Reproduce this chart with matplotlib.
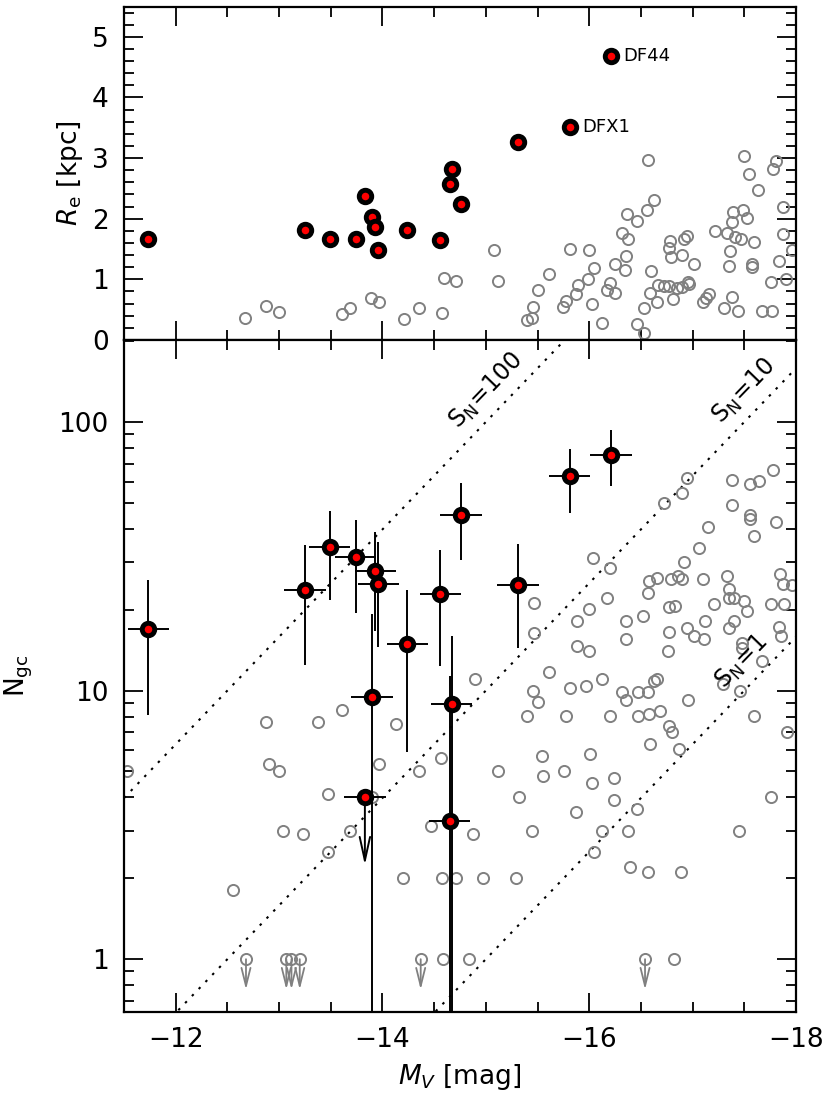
import numpy as np
import matplotlib.pyplot as plt
from matplotlib.ticker import MultipleLocator, FixedLocator, LogLocator, FuncFormatter, NullFormatter

plt.rcParams['font.family'] = ['DejaVu Sans']
plt.rcParams['mathtext.fontset'] = 'dejavusans'

# --- comparison sample, R_e panel ---
cmp_re_mv = [-12.67, -12.87, -13.00, -13.61, -13.69, -13.89, -13.97, -14.21, -14.35, -14.58,
             -14.60, -14.71, -15.08, -15.12, -15.40, -15.45, -15.46, -15.50, -15.61, -15.75,
             -15.78, -15.81, -15.87, -15.89, -15.99, -16.00, -16.03, -16.05, -16.12, -16.17,
             -16.20, -16.25, -16.25, -16.32, -16.35, -16.36, -16.37, -16.38, -16.46, -16.46,
             -16.53, -16.53, -16.56, -16.57, -16.59, -16.60, -16.63, -16.66, -16.67, -16.72,
             -16.77, -16.78, -16.77, -16.79, -16.81, -16.85, -16.90, -16.90, -16.92, -16.95,
             -16.96, -16.97, -17.01, -17.10, -17.13, -17.16, -17.22, -17.30, -17.33, -17.36,
             -17.35, -17.38, -17.38, -17.39, -17.41, -17.44, -17.47, -17.49, -17.50, -17.53,
             -17.55, -17.57, -17.57, -17.59, -17.63, -17.67, -17.76, -17.77, -17.78, -17.81,
             -17.84, -17.87, -17.87, -17.90, -17.96]
cmp_re = [0.36, 0.56, 0.46, 0.42, 0.53, 0.70, 0.63, 0.35, 0.52, 0.44,
          1.03, 0.98, 1.48, 0.98, 0.33, 0.36, 0.55, 0.83, 1.09, 0.55,
          0.64, 1.50, 0.76, 0.90, 1.00, 1.48, 0.59, 1.18, 0.28, 0.82,
          0.94, 0.78, 1.25, 1.76, 1.16, 1.39, 2.07, 1.66, 0.27, 1.96,
          0.52, 0.11, 2.14, 2.96, 0.78, 1.13, 2.30, 0.63, 0.90, 0.89,
          0.89, 1.64, 1.51, 1.37, 0.67, 0.85, 0.88, 1.40, 1.66, 1.72,
          0.96, 0.93, 1.25, 0.63, 0.69, 0.76, 1.80, 0.52, 1.77, 1.47,
          1.22, 0.71, 1.95, 2.11, 1.70, 0.47, 1.66, 2.15, 3.04, 2.01,
          2.73, 1.26, 1.21, 1.61, 2.48, 0.48, 0.96, 0.47, 2.82, 2.95,
          1.30, 2.19, 1.74, 1.00, 1.48]

# --- comparison sample, N_gc panel ---
cmp_gc_mv = [-16.95, -16.90, -16.72, -17.38, -17.56, -17.64, -17.78, -17.38, -17.56, -17.56,
             -17.81, -17.59, -17.15, -17.06, -16.04, -16.20, -16.92, -16.58, -16.66, -16.79,
             -16.86, -16.90, -17.10, -16.57, -17.33, -17.35, -17.35, -17.40, -17.50, -17.53,
             -17.85, -17.87, -17.96, -17.76, -17.88, -17.21, -17.12, -16.95, -17.01, -17.11,
             -17.35, -17.40, -17.48, -17.48, -17.67, -17.84, -17.86, -16.52, -16.36, -16.36,
             -16.77, -16.83, -16.77, -16.76, -16.17, -16.00, -15.88, -15.88, -16.00, -15.47,
             -15.47, -15.61, -14.90, -16.12, -16.66, -17.29, -15.46, -15.50, -15.40, -15.81,
             -15.97, -16.32, -16.36, -16.47, -16.57, -16.63, -16.58, -16.68, -16.96, -16.47,
             -16.20, -15.78, -16.77, -16.80, -16.59, -16.87, -17.46, -17.59, -17.91, -15.12,
             -15.54, -15.55, -15.76, -16.01, -16.03, -16.24, -16.24, -15.32, -15.87, -16.46,
             -17.76, -14.88, -15.45, -16.12, -16.38, -17.45, -16.05, -16.39, -16.57, -16.89,
             -14.71, -14.97, -15.29, -14.84, -16.82, -11.53, -12.87, -13.38, -13.61, -14.13,
             -12.90, -13.00, -13.97, -14.35, -14.57, -13.47, -13.90, -13.04, -13.23, -13.69,
             -13.47, -14.47, -14.20, -14.58, -12.55, -14.59]
cmp_gc = [61.9, 54.4, 49.9, 60.6, 58.9, 60.1, 66.0, 48.9, 45.2, 43.5,
          42.3, 37.5, 40.8, 33.9, 31.2, 28.7, 30.0, 25.5, 26.2, 26.0,
          26.8, 26.0, 26.0, 23.1, 26.6, 23.9, 22.1, 22.1, 21.5, 19.7,
          27.2, 25.0, 24.8, 21.0, 21.0, 21.0, 18.1, 17.1, 16.0, 15.5,
          17.1, 18.1, 15.0, 14.4, 12.9, 17.2, 16.0, 19.0, 18.2, 15.5,
          20.5, 20.7, 16.5, 14.0, 22.1, 20.1, 18.1, 14.7, 14.0, 21.1,
          16.4, 11.7, 11.0, 11.0, 11.0, 10.6, 10.0, 9.03, 8.01, 10.2,
          10.4, 9.84, 9.24, 9.92, 9.92, 10.9, 8.20, 8.41, 9.19, 8.01,
          8.01, 8.01, 7.35, 7.04, 6.32, 6.06, 10.0, 8.01, 7.04, 5.03,
          5.72, 4.82, 5.04, 5.82, 4.53, 4.72, 3.92, 4.01, 3.52, 3.62,
          4.01, 2.92, 3.00, 3.00, 3.00, 3.00, 2.50, 2.21, 2.11, 2.11,
          2.00, 2.00, 2.00, 1.00, 1.00, 5.03, 7.61, 7.61, 8.48, 7.50,
          5.32, 5.03, 5.32, 5.03, 5.61, 4.12, 4.03, 3.00, 2.92, 3.00,
          2.50, 3.12, 2.00, 2.00, 1.81, 1.00]

# comparison galaxies with N_gc upper limits (N_gc < 1)
cmp_lim_mv = [-12.68, -13.07, -13.12, -13.20, -14.37, -16.54]
cmp_lim_gc = [1, 1, 1, 1, 1, 1]

# --- UDGs ---
udg_mv = [-11.735, -13.25, -13.49, -13.74, -13.83, -13.90, -13.93, -13.96,
          -14.24, -14.56, -14.65, -14.67, -14.76, -15.31, -15.81, -16.21]
udg_re = [1.67, 1.81, 1.66, 1.67, 2.37, 2.02, 1.86, 1.49,
          1.81, 1.65, 2.58, 2.82, 2.25, 3.27, 3.51, 4.69]
udg_gc = [17.0, 23.7, 34.2, 31.4, 4.03, 9.46, 27.9, 25.0,
          14.9, 22.8, 3.28, 8.9, 45.1, 24.8, 63.0, 75.5]
udg_gc_lo = [8.1, 12.4, 21.8, 19.5, 4.03, 0.1, 16.6, 14.5,
             5.9, 12.3, 0.1, 0.1, 30.7, 14.4, 46.0, 57.6]
udg_gc_hi = [25.9, 34.9, 46.7, 43.3, 4.03, 19.2, 39.1, 35.6,
             23.7, 33.4, 11.3, 15.9, 59.3, 35.2, 79.5, 93.6]
udg_is_limit = [False, False, False, False, True, False, False, False,
                False, False, False, False, False, False, False, False]
udg_mv_err = 0.2

labelled = {'DF44': 15, 'DFX1': 14}
sn_values = [100, 10, 1]
sn_label_mv = [-15.01, -17.50, -17.48]

gray = '#808080'

fig = plt.figure(figsize=(8.3, 11.02), dpi=100)
ax1 = fig.add_axes([0.1494, 0.6915, 0.8096, 0.3021])
ax2 = fig.add_axes([0.1494, 0.0817, 0.8096, 0.6098], sharex=ax1)

# top panel
ax1.plot(cmp_re_mv, cmp_re, 'o', mfc='none', mec=gray, ms=8, mew=1.4, zorder=2)
ax1.plot(udg_mv, udg_re, 'o', mfc='red', mec='black', ms=9, mew=3.5, zorder=4)
for name, i in labelled.items():
    ax1.annotate(name, (udg_mv[i], udg_re[i]), xytext=(9, 0), textcoords='offset points',
                 va='center', ha='left', fontsize=13)
ax1.set_ylim(0, 5.49)
ax1.set_ylabel(r'$R_{\rm e}$ [kpc]', fontsize=19)
ax1.yaxis.set_label_coords(-0.058, 0.5)
ax1.yaxis.set_major_locator(MultipleLocator(1))
ax1.yaxis.set_minor_locator(MultipleLocator(0.2))
plt.setp(ax1.get_xticklabels(), visible=False)

# bottom panel
mv = np.array(udg_mv)
gc = np.array(udg_gc)
lim = np.array(udg_is_limit)
yerr = np.array([gc - np.array(udg_gc_lo), np.array(udg_gc_hi) - gc])
ax2.errorbar(mv, gc, xerr=udg_mv_err, yerr=yerr, fmt='none', ecolor='black',
             elinewidth=1.4, capsize=0, zorder=3)
ax2.plot(cmp_gc_mv, cmp_gc, 'o', mfc='none', mec=gray, ms=8, mew=1.4, zorder=2)
ax2.plot(cmp_lim_mv, cmp_lim_gc, 'o', mfc='none', mec=gray, ms=8, mew=1.4, zorder=2)
for m, n in zip(cmp_lim_mv, cmp_lim_gc):
    ax2.annotate('', xy=(m, n * 0.77), xytext=(m, n),
                 arrowprops=dict(arrowstyle='->,head_length=1.0,head_width=0.25', color=gray,
                                 lw=1.3, shrinkA=0, shrinkB=0, mutation_scale=13), zorder=2)
for m, n in zip(mv[lim], gc[lim]):
    ax2.annotate('', xy=(m, n * 0.556), xytext=(m, n),
                 arrowprops=dict(arrowstyle='->,head_length=1.0,head_width=0.22', color='black',
                                 lw=1.4, shrinkA=0, shrinkB=0, mutation_scale=17), zorder=3)
ax2.plot(udg_mv, udg_gc, 'o', mfc='red', mec='black', ms=9, mew=3.5, zorder=4)

ax2.set_yscale('log')
ax2.set_xlim(-11.5, -18)
ax2.set_ylim(0.636, 202)

# constant specific frequency lines
mgrid = np.linspace(-11.5, -18, 200)
fig.canvas.draw()
for sn, ml in zip(sn_values, sn_label_mv):
    ax2.plot(mgrid, sn * 10 ** (-0.4 * (mgrid + 15)), ls=(0, (1.2, 3.5)), color='black', lw=1.5, zorder=1)
    p0 = ax2.transData.transform((-15, sn))
    p1 = ax2.transData.transform((-16, sn * 10 ** 0.4))
    ang = np.degrees(np.arctan2(p1[1] - p0[1], p1[0] - p0[0]))
    yl = sn * 10 ** (-0.4 * (ml + 15)) * 1.3
    ax2.text(ml, yl, r'$\mathrm{S_N\!=\!%d}$' % sn, rotation=ang, ha='center', va='center',
             fontsize=17, rotation_mode='anchor')

ax2.yaxis.set_major_locator(FixedLocator([1, 10, 100]))
ax2.yaxis.set_major_formatter(FuncFormatter(lambda v, p: '%g' % v))
ax2.yaxis.set_minor_locator(LogLocator(subs=np.arange(2, 10)))
ax2.yaxis.set_minor_formatter(NullFormatter())
ax2.xaxis.set_major_locator(MultipleLocator(2))
ax2.xaxis.set_minor_locator(MultipleLocator(0.5))
ax2.set_ylabel(r'$\mathrm{N_{gc}}$', fontsize=19)
ax2.yaxis.set_label_coords(-0.132, 0.5)
ax2.set_xlabel(r'$M_V$ [mag]', fontsize=19)
ax2.xaxis.set_label_coords(0.5, -0.075)

for ax in (ax1, ax2):
    ax.tick_params(which='both', direction='in', top=True, right=True, width=1.3, labelsize=19)
    ax.tick_params(which='major', length=14)
    ax.tick_params(which='minor', length=7)
    ax.tick_params(axis='x', pad=11)
    ax.tick_params(axis='y', pad=11)
    for s in ax.spines.values():
        s.set_linewidth(1.6)

fig.savefig('out.png', dpi=100)
